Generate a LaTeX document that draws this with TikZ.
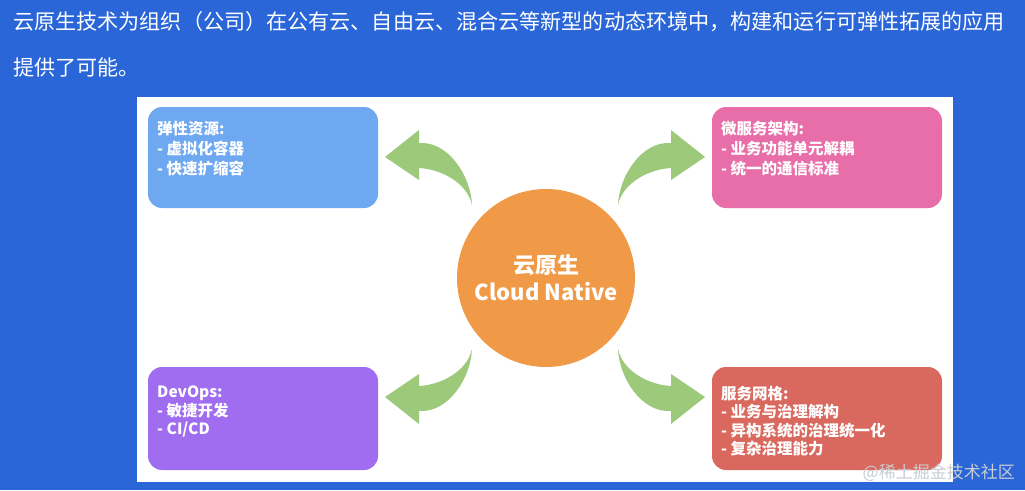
\documentclass[tikz,border=0pt]{standalone}
\usepackage{fontspec}
\setmainfont{Noto Sans CJK SC}
\definecolor{bgblue}{HTML}{2A66D8}
\definecolor{boxblue}{HTML}{6EA8F0}
\definecolor{boxpink}{HTML}{E76EA8}
\definecolor{boxpurple}{HTML}{A06CF0}
\definecolor{boxred}{HTML}{D9695F}
\definecolor{corange}{HTML}{F09A48}
\definecolor{agreen}{HTML}{9CC97A}
\definecolor{wmgray}{HTML}{C8CCD4}
\tikzset{
  card/.style={fill=#1, draw=none, rounded corners=14pt, inner sep=0pt},
  cardtext/.style={text=white, font=\fontsize{15.5}{20}\selectfont\bfseries, align=left, anchor=north west, inner sep=0pt},
  titletext/.style={text=white, font=\fontsize{21.1}{25}\selectfont, anchor=base west, inner sep=0pt},
  bigarrow/.style={fill=agreen, draw=none},
}
\newcommand{\greenarrow}{%
  \fill[bigarrow] (-160,-120) -- (-126,-147) -- (-126,-134)
    .. controls (-96,-136) and (-74,-100) .. (-73,-72)
    .. controls (-78,-95) and (-105,-108) .. (-126,-109)
    -- (-126,-97) -- cycle;}
\begin{document}
\begin{tikzpicture}[x=1pt,y=-1pt]
\useasboundingbox (0,0) rectangle (1025,490);
\fill[bgblue] (0,0) rectangle (1025,490);
\fill[white] (137,97) rectangle (953,482);
\node[titletext] (title1) at (13,29) {云原生技术为组织（公司）在公有云、自由云、混合云等新型的动态环境中，构建和运行可弹性拓展的应用};
\node[titletext] (title2) at (13,75) {提供了可能。};
% cards
\fill[card=boxblue] (148,107) rectangle (378,208);
\fill[card=boxpink] (712,107) rectangle (942,208);
\fill[card=boxpurple] (148,367) rectangle (378,470);
\fill[card=boxred] (712,367) rectangle (942,470);
\node[cardtext] (t1) at (157,121) {弹性资源:\\- 虚拟化容器\\- 快速扩缩容};
\node[cardtext] (t2) at (721,121) {微服务架构:\\- 业务功能单元解耦\\- 统一的通信标准};
\node[cardtext, font=\fontsize{15.5}{18.5}\selectfont\bfseries] (t3) at (157,386) {DevOps:\\- 敏捷开发\\- CI/CD};
\node[cardtext, font=\fontsize{15.5}{18.5}\selectfont\bfseries] (t4) at (721,386) {服务网格:\\- 业务与治理解构\\- 异构系统的治理统一化\\- 复杂治理能力};
% arrows
\begin{scope}[shift={(545,277)}]
  \greenarrow
  \begin{scope}[xscale=-1]\greenarrow\end{scope}
  \begin{scope}[yscale=-1]\greenarrow\end{scope}
  \begin{scope}[xscale=-1,yscale=-1]\greenarrow\end{scope}
\end{scope}
% center
\node[circle, fill=corange, minimum size=178pt, inner sep=0pt, text=white,
  font=\fontsize{22}{27}\selectfont\bfseries, align=center] (core) at (546,278) {云原生\\Cloud Native};
\node[text=wmgray, font=\fontsize{17}{20}\selectfont, anchor=east, inner sep=0pt] (wm) at (1015,473) {@稀土掘金技术社区};
\end{tikzpicture}
\end{document}
